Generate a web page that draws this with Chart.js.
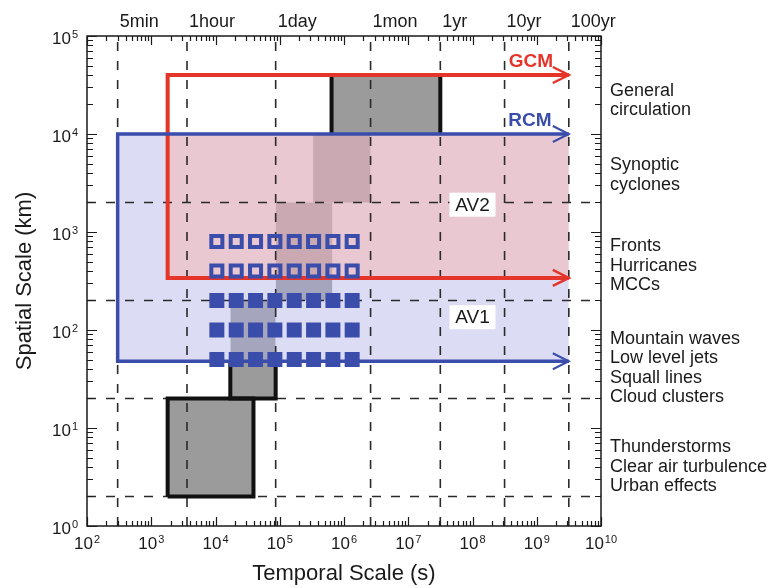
<!DOCTYPE html>
<html>
<head>
<meta charset="utf-8">
<script src="https://cdn.jsdelivr.net/npm/chart.js@4.4.0/dist/chart.umd.min.js"></script>
<style>
html, body { margin: 0; padding: 0; background: #fff; }
</style>
</head>
<body>
<canvas id="myChart" width="781" height="588"></canvas>
<script>
// axis ranges (log-log)
var xMin = 1e2, xMax = 1e10;
var yMin = 1, yMax = 1e5;
var xTickExp = ["2", "3", "4", "5", "6", "7", "8", "9", "10"];
var yTickExp = ["0", "1", "2", "3", "4", "5"];

// time marks along the top (seconds)
var timeLabels = ["5min", "1hour", "1day", "1mon", "1yr", "10yr", "100yr"];
var timeValues = [300, 3600, 86400, 2592000, 31557600, 315576000, 3155760000];

// dashed horizontal lines (km)
var spaceLines = [2, 20, 200, 2000];

// grey scale boxes: x from boxX1 to boxX2 (s), y from boxY1 to boxY2 (km)
var boxX1 = [1.8e3, 1.7e4, 86400, 3.3e5, 6.4e5];
var boxX2 = [3.9e4, 86400, 6.6e5, 2592000, 31557600];
var boxY1 = [2, 20, 200, 2000, 1e4];
var boxY2 = [20, 200, 2000, 1e4, 4e4];

// model domains
var gcmX = [1.8e3, 3155760000], gcmY = [340, 4e4];
var rcmX = [300, 3155760000], rcmY = [48, 1e4];

// added value squares
var avX = [1.05e4, 2.1e4, 4.2e4, 8.4e4, 1.68e5, 3.36e5, 6.72e5, 1.34e6];
var av2Rows = [800, 400];
var av1Rows = [200, 100, 50];
var avLabels = ["AV2", "AV1"];
var avLabelX = [1e8, 1e8];
var avLabelY = [1900, 135];

// phenomena listed on the right
var phenomena = [
    ["General", "circulation"],
    ["Synoptic", "cyclones"],
    ["Fronts", "Hurricanes", "MCCs"],
    ["Mountain waves", "Low level jets", "Squall lines", "Cloud clusters"],
    ["Thunderstorms", "Clear air turbulence", "Urban effects"]
];
var phenomenaY = [2.2e4, 3.8e3, 450, 41, 4];

var RED = "#e5342a";
var BLUE = "#3a4dab";
var FONT = '"Liberation Sans", Arial, Helvetica, sans-serif';

function pts(xs, ys) {
    var out = [];
    for (var i = 0; i < xs.length; i++) out.push({x: xs[i], y: ys[i]});
    return out;
}
function lineSet(data, color, width, order, dash) {
    return {
        type: "line", data: data, borderColor: color, borderWidth: width,
        borderDash: dash || [], pointRadius: 0, pointHitRadius: 0, tension: 0,
        fill: false, order: order, borderJoinStyle: "miter", borderCapStyle: "butt"
    };
}
function fillSet(x1, x2, y1, y2, color, order) {
    return {
        type: "line", data: pts([x1, x2], [y2, y2]), borderWidth: 0,
        pointRadius: 0, pointHitRadius: 0, backgroundColor: color,
        fill: {value: y1}, order: order
    };
}

var datasets = [];
// grey boxes
for (var i = 0; i < boxX1.length; i++) {
    datasets.push(fillSet(boxX1[i], boxX2[i], boxY1[i], boxY2[i], "#9b9b9b", 20));
}
// RCM and GCM areas
datasets.push(fillSet(rcmX[0], rcmX[1], rcmY[0], rcmY[1], "rgba(177,177,233,0.45)", 19));
datasets.push(fillSet(Math.max(gcmX[0], rcmX[0]), Math.min(gcmX[1], rcmX[1]),
    Math.max(gcmY[0], rcmY[0]), Math.min(gcmY[1], rcmY[1]), "rgba(249,176,167,0.45)", 18));
// dashed reference lines
for (var t = 0; t < timeValues.length; t++) {
    datasets.push(lineSet(pts([timeValues[t], timeValues[t]], [yMin, yMax]), "#2a2a2a", 1.6, 17, [9, 10]));
}
for (var s = 0; s < spaceLines.length; s++) {
    datasets.push(lineSet(pts([xMin, xMax], [spaceLines[s], spaceLines[s]]), "#2a2a2a", 1.6, 17, [9, 10]));
}
// black outlines of the boxes lying outside the model areas
datasets.push(lineSet(pts([boxX1[0], boxX2[0], boxX2[0], boxX1[0], boxX1[0]],
    [boxY1[0], boxY1[0], boxY2[0], boxY2[0], boxY1[0]]), "#111", 4, 16));
datasets.push(lineSet(pts([boxX1[1], boxX1[1], boxX2[1], boxX2[1]],
    [rcmY[0], boxY1[1], boxY1[1], rcmY[0]]), "#111", 4, 16));
datasets.push(lineSet(pts([boxX1[4], boxX1[4]], [boxY1[4], boxY2[4]]), "#111", 4, 16));
datasets.push(lineSet(pts([boxX2[4], boxX2[4]], [boxY1[4], boxY2[4]]), "#111", 4, 16));
// GCM / RCM frames
datasets.push(lineSet(pts([gcmX[1], gcmX[0], gcmX[0], gcmX[1]], [gcmY[1], gcmY[1], gcmY[0], gcmY[0]]), RED, 4, 15));
datasets.push(lineSet(pts([rcmX[1], rcmX[0], rcmX[0], rcmX[1]], [rcmY[1], rcmY[1], rcmY[0], rcmY[0]]), BLUE, 3.5, 14));
// AV squares
var hollow = [], filled = [];
for (var r = 0; r < av2Rows.length; r++) for (var c = 0; c < avX.length; c++) hollow.push({x: avX[c], y: av2Rows[r]});
for (var r2 = 0; r2 < av1Rows.length; r2++) for (var c2 = 0; c2 < avX.length; c2++) filled.push({x: avX[c2], y: av1Rows[r2]});
datasets.push({type: "scatter", data: hollow, pointStyle: "rect", pointRadius: 7.8, borderWidth: 4,
    borderColor: BLUE, backgroundColor: "rgba(0,0,0,0)", order: 2});
datasets.push({type: "scatter", data: filled, pointStyle: "rect", pointRadius: 10.6, borderWidth: 0,
    backgroundColor: BLUE, order: 2});

function drawSup(ctx, exp, x, y, align) {
    ctx.font = "17px " + FONT;
    var w1 = ctx.measureText("10").width;
    ctx.font = "11px " + FONT;
    var w2 = ctx.measureText(exp).width;
    var left = align === "right" ? x - w1 - w2 - 1 : x - (w1 + w2 + 1) / 2;
    ctx.textAlign = "left";
    ctx.textBaseline = "middle";
    ctx.font = "17px " + FONT;
    ctx.fillText("10", left, y);
    ctx.font = "11px " + FONT;
    ctx.fillText(exp, left + w1 + 1, y - 4);
}

var decorations = {
    id: "decorations",
    afterDatasetsDraw: function (chart) {
        var ctx = chart.ctx, ca = chart.chartArea;
        var xs = chart.scales.x, ys = chart.scales.y;
        ctx.save();
        ctx.strokeStyle = "#1a1a1a";
        ctx.fillStyle = "#1a1a1a";

        // arrow heads
        function chevron(yv, color, w) {
            var px = xs.getPixelForValue(gcmX[1]), py = ys.getPixelForValue(yv);
            ctx.beginPath();
            ctx.strokeStyle = color;
            ctx.lineWidth = w;
            ctx.moveTo(px - 16, py - 8);
            ctx.lineTo(px, py);
            ctx.lineTo(px - 16, py + 8);
            ctx.stroke();
        }
        chevron(gcmY[1], RED, 2.5);
        chevron(gcmY[0], RED, 2.5);
        chevron(rcmY[1], BLUE, 2);
        chevron(rcmY[0], BLUE, 2);

        // model names
        ctx.font = "bold 19px " + FONT;
        ctx.textAlign = "right";
        ctx.textBaseline = "middle";
        ctx.fillStyle = RED;
        ctx.fillText("GCM", xs.getPixelForValue(1.8e9), ys.getPixelForValue(5.4e4));
        ctx.fillStyle = BLUE;
        ctx.fillText("RCM", xs.getPixelForValue(1.7e9), ys.getPixelForValue(1.35e4));

        // AV boxes
        ctx.font = "19px " + FONT;
        ctx.textAlign = "center";
        for (var a = 0; a < avLabels.length; a++) {
            var ax = xs.getPixelForValue(avLabelX[a]), ay = ys.getPixelForValue(avLabelY[a]);
            ctx.fillStyle = "#fff";
            ctx.fillRect(ax - 23, ay - 12, 46, 24);
            ctx.fillStyle = "#1a1a1a";
            ctx.fillText(avLabels[a], ax, ay + 1);
        }

        // frame
        ctx.strokeStyle = "#1a1a1a";
        ctx.lineWidth = 1.5;
        ctx.strokeRect(ca.left, ca.top, ca.right - ca.left, ca.bottom - ca.top);

        // log ticks on all four sides
        ctx.lineWidth = 1.2;
        ctx.beginPath();
        for (var e = 2; e <= 10; e++) {
            for (var k = 1; k <= 9; k++) {
                var v = k * Math.pow(10, e);
                if (v > xMax * 1.0001) break;
                var px = Math.round(xs.getPixelForValue(v)) + 0.5;
                var len = k === 1 ? 9 : 5;
                ctx.moveTo(px, ca.bottom); ctx.lineTo(px, ca.bottom - len);
                ctx.moveTo(px, ca.top); ctx.lineTo(px, ca.top + len);
            }
        }
        for (var f = 0; f <= 5; f++) {
            for (var m = 1; m <= 9; m++) {
                var yv = m * Math.pow(10, f);
                if (yv > yMax * 1.0001) break;
                var py = Math.round(ys.getPixelForValue(yv)) + 0.5;
                var l2 = m === 1 ? 10 : 6;
                ctx.moveTo(ca.left, py); ctx.lineTo(ca.left + l2, py);
                ctx.moveTo(ca.right, py); ctx.lineTo(ca.right - l2, py);
            }
        }
        ctx.stroke();

        // tick labels
        ctx.fillStyle = "#1a1a1a";
        for (var i = 0; i < xTickExp.length; i++) {
            drawSup(ctx, xTickExp[i], xs.getPixelForValue(Math.pow(10, i + 2)), ca.bottom + 18, "center");
        }
        for (var j = 0; j < yTickExp.length; j++) {
            drawSup(ctx, yTickExp[j], ca.left - 9, ys.getPixelForValue(Math.pow(10, j)) + 3, "right");
        }

        // time labels on top
        ctx.font = "18px " + FONT;
        ctx.textAlign = "left";
        ctx.textBaseline = "middle";
        for (var t = 0; t < timeLabels.length; t++) {
            ctx.fillText(timeLabels[t], xs.getPixelForValue(timeValues[t]) + 2, ca.top - 14);
        }

        // phenomena on the right
        for (var g = 0; g < phenomena.length; g++) {
            var cy = ys.getPixelForValue(phenomenaY[g]);
            var n = phenomena[g].length;
            for (var q = 0; q < n; q++) {
                ctx.fillText(phenomena[g][q], ca.right + 9, cy + (q - (n - 1) / 2) * 19.5);
            }
        }

        // axis titles
        ctx.font = "22px " + FONT;
        ctx.textAlign = "center";
        ctx.fillText("Temporal Scale (s)", (ca.left + ca.right) / 2, ca.bottom + 48);
        ctx.save();
        ctx.translate(25, (ca.top + ca.bottom) / 2);
        ctx.rotate(-Math.PI / 2);
        ctx.fillText("Spatial Scale (km)", 0, 0);
        ctx.restore();

        ctx.restore();
    }
};

var ctx = document.getElementById("myChart").getContext("2d");
var chart = new Chart(ctx, {
    type: "scatter",
    data: {datasets: datasets},
    options: {
        responsive: false,
        animation: false,
        layout: {padding: {left: 87, top: 36, right: 180, bottom: 62}},
        plugins: {legend: {display: false}, tooltip: {enabled: false}},
        scales: {
            x: {type: "logarithmic", min: xMin, max: xMax, display: false},
            y: {type: "logarithmic", min: yMin, max: yMax, display: false}
        }
    },
    plugins: [decorations]
});
</script>
</body>
</html>
